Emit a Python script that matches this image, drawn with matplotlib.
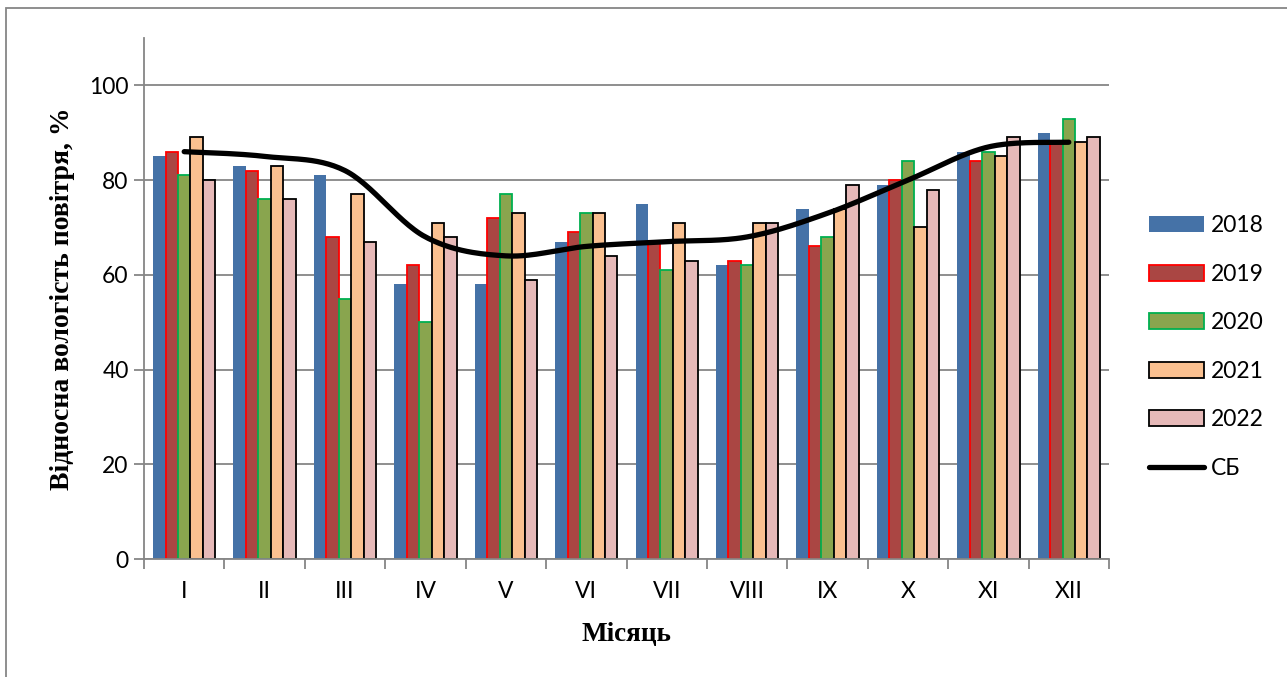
import numpy as np
import matplotlib.pyplot as plt
from matplotlib.patches import Rectangle

months = ['I', 'II', 'III', 'IV', 'V', 'VI', 'VII', 'VIII', 'IX', 'X', 'XI', 'XII']
y2018 = [85, 83, 81, 58, 58, 67, 75, 62, 74, 79, 86, 90]
y2019 = [86, 82, 68, 62, 72, 69, 67, 63, 66, 80, 84, 88]
y2020 = [81, 76, 55, 50, 77, 73, 61, 62, 68, 84, 86, 93]
y2021 = [89, 83, 77, 71, 73, 73, 71, 71, 74, 70, 85, 88]
y2022 = [80, 76, 67, 68, 59, 64, 63, 71, 79, 78, 89, 89]
sb = [86, 85, 82, 68, 64, 66, 67, 68, 73, 80, 87, 88]

series = [
    ('2018', y2018, '#4572A7', '#4572A7'),
    ('2019', y2019, '#AA4643', '#FF0000'),
    ('2020', y2020, '#89A54E', '#00B050'),
    ('2021', y2021, '#FAC090', '#000000'),
    ('2022', y2022, '#E6B9B8', '#000000'),
]


def smooth(xs, ys, n=30):
    # Catmull-Rom сплайн, як "згладжена лінія" в Excel
    p = np.column_stack([xs, ys]).astype(float)
    p = np.vstack([p[0], p, p[-1]])
    out = []
    t = np.linspace(0, 1, n)[:, None]
    for i in range(1, len(p) - 2):
        p0, p1, p2, p3 = p[i - 1], p[i], p[i + 1], p[i + 2]
        seg = 0.5 * ((2 * p1) + (-p0 + p2) * t + (2 * p0 - 5 * p1 + 4 * p2 - p3) * t ** 2
                     + (-p0 + 3 * p1 - 3 * p2 + p3) * t ** 3)
        out.append(seg)
    out = np.vstack(out)
    return out[:, 0], out[:, 1]


fig = plt.figure(figsize=(12.87, 6.77), dpi=100)
ax = fig.add_axes([144 / 1287, 1 - 559 / 677, (1109 - 144) / 1287, (559 - 38) / 677])

x = np.arange(len(months))
w = 0.155
for i, (name, vals, fc, ec) in enumerate(series):
    lw = 0 if name == '2018' else 1.3
    ax.bar(x + (i - 2) * w, vals, w, color=fc, edgecolor=ec, linewidth=lw, label=name, zorder=2)

sx, sy = smooth(x, sb)
ax.plot(sx, sy, color='black', lw=3.8, solid_capstyle='round', label='СБ', zorder=3)

ax.set_xlim(-0.5, len(months) - 0.5)
ax.set_ylim(0, 110)
ax.set_yticks(range(0, 101, 20))
ax.set_xticks(x)
ax.set_xticklabels(months)
ax.set_xticks(np.arange(-0.5, len(months), 1), minor=True)
ax.tick_params(axis='x', which='major', length=0, pad=16)
ax.tick_params(axis='x', which='minor', length=7, width=1.3, color='#868686')
ax.tick_params(axis='y', length=7, width=1.3, color='#868686', pad=4)
for lab in ax.get_xticklabels() + ax.get_yticklabels():
    lab.set_fontfamily('Lato')
    lab.set_fontsize(16.5)
ax.grid(axis='y', color='#868686', lw=1.3, zorder=0)
ax.set_axisbelow(True)
for s in ['top', 'right']:
    ax.spines[s].set_visible(False)
for s in ['left', 'bottom']:
    ax.spines[s].set_color('#868686')
    ax.spines[s].set_linewidth(1.3)

ax.set_xlabel('Місяць', family='Liberation Serif', fontweight='bold', fontsize=19.5, labelpad=14)
ax.set_ylabel('Відносна вологість повітря, %', family='Liberation Serif', fontweight='bold',
              fontsize=20, labelpad=10)

handles, labels = ax.get_legend_handles_labels()
handles = handles[1:] + handles[:1]
labels = labels[1:] + labels[:1]
fig.legend(handles, labels, loc='upper left', bbox_to_anchor=(1140 / 1287, 1 - 206 / 677),
           frameon=False, prop={'family': 'Lato', 'size': 16.5}, labelspacing=1.2,
           handlelength=2.4, handleheight=0.7, handletextpad=0.3, borderaxespad=0)

fig.patches.append(Rectangle((6 / 1287, -0.1), 1.2, 1 - 8 / 677 + 0.1, transform=fig.transFigure,
                             fill=False, edgecolor='#868686', lw=1.3))

fig.savefig('out.png', dpi=100)
